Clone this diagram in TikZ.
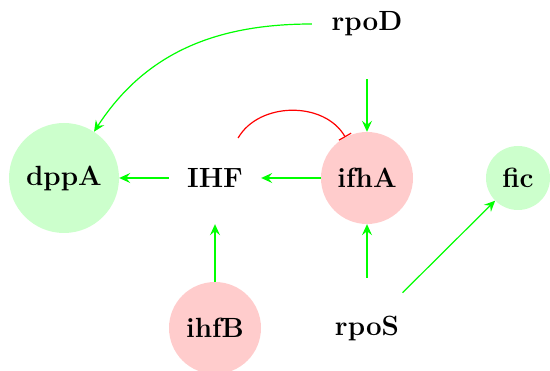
\documentclass[tikz,border=0pt]{standalone}
\usetikzlibrary{arrows.meta}
\begin{document}
\begin{tikzpicture}[x=1pt,y=-1pt,
  gene/.style={circle,inner sep=0pt,font=\fontsize{27.8}{33}\selectfont\bfseries},
  up/.style={gene,fill=green!20},
  down/.style={gene,fill=red!20},
  plain/.style={gene},
  act/.style={draw={rgb,255:red,0;green,255;blue,0},line width=1.2pt,-{Stealth[length=11pt,width=10pt,inset=4pt]}},
  inh/.style={draw=red,line width=1.2pt,-{Bar[width=14pt,line width=1.2pt]}}
]
\useasboundingbox (0,0) rectangle (550,371);
\node[up,minimum size=110pt] (dppA) at (64,178) {dppA};
\node[plain,minimum size=92pt] (IHF) at (215,178) {IHF};
\node[down,minimum size=92pt] (ifhA) at (367,178) {ifhA};
\node[up,minimum size=64pt] (fic) at (518,178) {fic};
\node[plain,minimum size=110pt] (rpoD) at (367,24) {rpoD};
\node[plain,minimum size=100pt] (rpoS) at (367,328) {rpoS};
\node[down,minimum size=92pt] (ihfB) at (215,328) {ihfB};
\draw[act] (IHF) -- (dppA);
\draw[act] (ifhA) -- (IHF);
\draw[act] (rpoD) -- (ifhA);
\draw[act] (rpoS) -- (ifhA);
\draw[act] (ihfB) -- (IHF);
\draw[act] (rpoS) -- (fic);
\draw[act] (rpoD.west) to[out=180,in=57] (dppA.57);
\draw[inh] (IHF.60) to[out=60,in=120] (ifhA.118);
\end{tikzpicture}
\end{document}
